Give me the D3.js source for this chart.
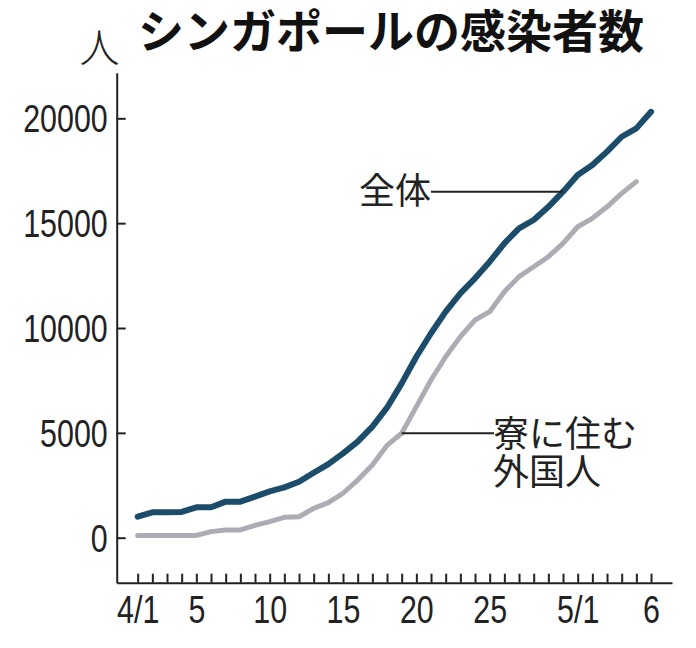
<!DOCTYPE html>
<html>
<head>
<meta charset="utf-8">
<script src="https://cdn.jsdelivr.net/npm/d3@7"></script>
<style>
  body { margin: 0; background: #fff; }
  svg { display: block; }
</style>
</head>
<body>
<main></main>
<script>
// Data
let dates = ['4/1', '4/2', '4/3', '4/4', '4/5', '4/6', '4/7', '4/8', '4/9', '4/10',
    '4/11', '4/12', '4/13', '4/14', '4/15', '4/16', '4/17', '4/18', '4/19', '4/20',
    '4/21', '4/22', '4/23', '4/24', '4/25', '4/26', '4/27', '4/28', '4/29', '4/30',
    '5/1', '5/2', '5/3', '5/4', '5/5', '5/6']
let total = [1000, 1210, 1210, 1230, 1450, 1450, 1720, 1720, 1960, 2210,
    2400, 2670, 3100, 3510, 4020, 4580, 5300, 6200, 7360, 8630,
    9750, 10780, 11650, 12370, 13160, 14040, 14750, 15150, 15780, 16500,
    17300, 17770, 18410, 19120, 19520, 20310]
let dorm = [100, 100, 100, 100, 110, 290, 370, 370, 590, 765,
    970, 1000, 1400, 1670, 2120, 2750, 3470, 4400, 4980, 6250,
    7520, 8630, 9590, 10380, 10780, 11730, 12450, 12920, 13400, 14040,
    14830, 15230, 15780, 16420, 16980]
let yTicks = [0, 5000, 10000, 15000, 20000]
let xLabels = {'4/1': '4/1', '4/5': '5', '4/10': '10', '4/15': '15', '4/20': '20',
    '4/25': '25', '5/1': '5/1', '5/6': '6'}

const numFont = "'Liberation Sans', Arial, sans-serif"
const jpFont = "'Noto Sans CJK JP', sans-serif"

let svg = d3.select('main')
    .append('svg')
    .attr('width', 696)
    .attr('height', 648)

let x = d3.scaleLinear()
    .domain([-1.43, dates.length - 1 + 1.43])
    .range([116.7, 672])

let y = d3.scaleLinear()
    .domain([-2146, 22175])
    .range([582.7, 72.7])

// Axes
let xAxis = d3.axisBottom(x)
    .tickValues(d3.range(dates.length))
    .tickSizeInner(-9)
    .tickSizeOuter(0)
    .tickPadding(12)
    .tickFormat(i => xLabels[dates[i]] || '')

let gx = svg.append('g')
    .attr('transform', `translate(0,${y(-2146)})`)
    .call(xAxis)

let yAxis = d3.axisLeft(y)
    .tickValues(yTicks)
    .tickSizeInner(-9)
    .tickSizeOuter(0)
    .tickPadding(9)
    .tickFormat(d => d)

let gy = svg.append('g')
    .attr('transform', `translate(${x(-1.43)},0)`)
    .call(yAxis)

svg.selectAll('.domain, .tick line')
    .style('stroke', '#222')
    .style('stroke-width', 2)

svg.selectAll('.tick text')
    .style('font-family', numFont)
    .style('font-size', '38px')
    .style('fill', '#222')

gy.selectAll('.tick text').attr('dy', '0.36em')
gx.selectAll('.tick text').attr('dy', '0.74em')

// narrow the digits like the condensed newspaper face
svg.selectAll('.tick text').each(function() {
    let w = this.getComputedTextLength()
    if (w > 0) {
        d3.select(this)
            .attr('textLength', w * 0.8)
            .attr('lengthAdjust', 'spacingAndGlyphs')
    }
})

// Lines
let line = d3.line()
    .x((d, i) => x(i))
    .y(d => y(d))

svg.append('path')
    .datum(dorm)
    .attr('d', line)
    .style('fill', 'none')
    .style('stroke', '#acacb5')
    .style('stroke-width', 5)
    .style('stroke-linejoin', 'round')
    .style('stroke-linecap', 'round')

svg.append('path')
    .datum(total)
    .attr('d', line)
    .style('fill', 'none')
    .style('stroke', '#1b4c6a')
    .style('stroke-width', 6)
    .style('stroke-linejoin', 'round')
    .style('stroke-linecap', 'round')

// Labels with leader lines
let totalY = y(total[29])
svg.append('line')
    .attr('x1', 431)
    .attr('x2', x(29))
    .attr('y1', totalY)
    .attr('y2', totalY)
    .style('stroke', '#222')
    .style('stroke-width', 2)

svg.append('text')
    .attr('x', 431)
    .attr('y', totalY + 12.5)
    .attr('text-anchor', 'end')
    .style('font-family', jpFont)
    .style('font-size', '36px')
    .style('fill', '#222')
    .text('全体')

let dormY = y(dorm[18])
svg.append('line')
    .attr('x1', x(18))
    .attr('x2', 494)
    .attr('y1', dormY)
    .attr('y2', dormY)
    .style('stroke', '#222')
    .style('stroke-width', 2)

let dormLabel = svg.append('text')
    .attr('x', 493)
    .attr('y', dormY + 14)
    .style('font-family', jpFont)
    .style('font-size', '36px')
    .style('fill', '#222')

dormLabel.append('tspan')
    .attr('x', 493)
    .text('寮に住む')

dormLabel.append('tspan')
    .attr('x', 493)
    .attr('dy', 38)
    .text('外国人')

// Unit and title
svg.append('text')
    .attr('x', 99.5)
    .attr('y', 62)
    .attr('text-anchor', 'middle')
    .style('font-family', jpFont)
    .style('font-size', '40px')
    .style('font-weight', 300)
    .style('fill', '#222')
    .text('人')

svg.append('text')
    .attr('x', 138)
    .attr('y', 48)
    .style('font-family', jpFont)
    .style('font-size', '46px')
    .style('font-weight', 700)
    .style('fill', '#111')
    .text('シンガポールの感染者数')
</script>
</body>
</html>
